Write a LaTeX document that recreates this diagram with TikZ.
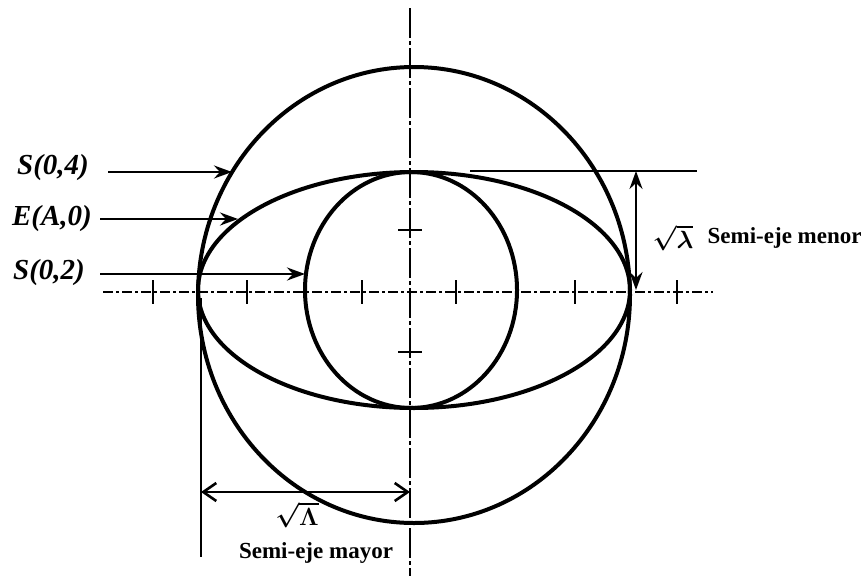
\documentclass[tikz,border=0pt]{standalone}
\usepackage{fontspec}
\setmainfont{Liberation Serif}
\usepackage{amsmath,bm}
\usetikzlibrary{arrows.meta,positioning}

\begin{document}
\begin{tikzpicture}[
  x=1pt,y=-1pt,
  curve/.style={line width=4pt},
  haxis/.style={line width=2.8pt,dash pattern=on 10pt off 3pt on 3pt off 3pt},
  vaxis/.style={line width=2.8pt,dash pattern=on 30pt off 3pt on 4pt off 3pt},
  tick/.style={line width=2.8pt},
  ptr/.style={line width=2.8pt,-{Stealth[length=18pt,width=13pt,inset=6pt]}},
  hdim/.style={line width=2.6pt,{Straight Barb[length=13pt,width=18pt]}-{Straight Barb[length=13pt,width=18pt]}},
  vdim/.style={line width=2.6pt,{Stealth[length=18pt,width=13pt,inset=6pt]}-{Stealth[length=18pt,width=13pt,inset=6pt]}},
  tag/.style={font=\fontsize{29}{32}\selectfont\bfseries\itshape,inner sep=0pt},
  note/.style={font=\fontsize{23}{26}\selectfont\bfseries,inner sep=0pt}
]
  \useasboundingbox (0,0) rectangle (866,581);
  % axes
  \coordinate (top) at (410,8);
  \coordinate (bot) at (410,576);
  \coordinate (lft) at (103,292);
  \coordinate (rgt) at (713,292);
  \draw[vaxis] (top) -- (bot);
  \draw[haxis] (lft) -- (rgt);
  \foreach \x in {153,247,362,456,575,677}
    \draw[tick] (\x,280) -- (\x,304);
  \foreach \y in {230,352}
    \draw[tick] (398,\y) -- (422,\y);

  % circles and ellipse
  \draw[curve] (414,295) ellipse [x radius=216,y radius=228];
  \draw[curve] (414,290) ellipse [x radius=216,y radius=118];
  \draw[curve] (411,290) ellipse [x radius=106,y radius=118];

  % labels on the left
  \node[tag] (s4) at (53,168) {S(0,4)};
  \node[tag] (ea) at (52,219) {E(A,0)};
  \node[tag] (s2) at (49,273) {S(0,2)};
  \coordinate (s4a) at (108,172);
  \coordinate (s4b) at (232,172);
  \coordinate (eaa) at (100,219);
  \coordinate (eab) at (238,219);
  \coordinate (s2a) at (100,274);
  \coordinate (s2b) at (305,274);
  \draw[ptr] (s4a) -- (s4b);
  \draw[ptr] (eaa) -- (eab);
  \draw[ptr] (s2a) -- (s2b);

  % semi-eje menor
  \coordinate (tl) at (470,171);
  \coordinate (tr) at (697,171);
  \draw[tick] (tl) -- (tr);
  \coordinate (vt) at (636,171);
  \coordinate (vb) at (636,290);
  \draw[vdim] (vt) -- (vb);
  \node[note] (lam) at (673,238) {$\bm{\sqrt{\lambda}}$};
  \node[note,right=14pt of lam] (menor) {Semi-eje menor};

  % semi-eje mayor
  \coordinate (ext1) at (201,298);
  \coordinate (ext2) at (201,557);
  \draw[tick] (ext1) -- (ext2);
  \coordinate (ha) at (201,492);
  \coordinate (hb) at (410,492);
  \draw[hdim] (ha) -- (hb);
  \node[note] (Lam) at (297,515) {$\bm{\sqrt{\Lambda}}$};
  \node[note] (mayor) at (316,553) {Semi-eje mayor};
\end{tikzpicture}
\end{document}
